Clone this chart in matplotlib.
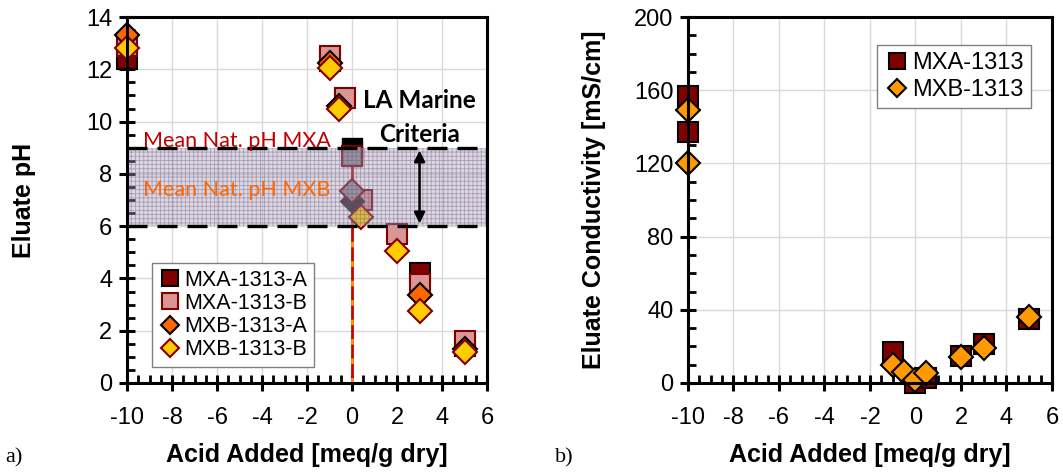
import matplotlib
matplotlib.use('Agg')
import matplotlib.pyplot as plt
from matplotlib.ticker import MultipleLocator

plt.rcParams['font.family'] = ['Liberation Sans', 'DejaVu Sans']
plt.rcParams['hatch.linewidth'] = 0.6
plt.rcParams['axes.unicode_minus'] = False

# panel a) eluate pH
mxa_a_x = [-10, -1, 3, 5]
mxa_a_y = [12.4, 12.3, 4.2, 1.4]
mxa_b_x = [-10, -1, -0.3, 0.45, 2, 3, 5]
mxa_b_y = [12.9, 12.5, 10.9, 7.0, 5.7, 3.8, 1.6]
mxb_a_x = [-10, -1, -0.6, 3, 5]
mxb_a_y = [13.3, 12.25, 10.6, 3.35, 1.3]
mxb_b_x = [-10, -1, -0.6, 0.4, 2, 3, 5]
mxb_b_y = [12.8, 12.05, 10.5, 6.35, 5.05, 2.75, 1.2]

# mean natural pH markers at zero acid
nat_mxa_y = [9.0, 8.7]
nat_mxb_y = [6.95, 7.35]
crit_low, crit_high = 6, 9

# panel b) eluate conductivity
cond_a_x = [-10, -10, -1, 0, 0.45, 2, 3, 5]
cond_a_y = [157, 137, 17, 0, 3, 15, 21.5, 35]
cond_b_x = [-10, -10, -1, -0.5, 0, 0.45, 2, 3, 5]
cond_b_y = [149, 120, 10, 6, 1.6, 5.4, 14, 19, 36]

DARK = '#800000'
PINK = '#d99694'
ORANGE = '#ff6600'
YELLOW = '#ffcc00'
AMBER = '#ff9900'

fig = plt.figure(figsize=(10.63, 4.74), dpi=100)
ax1 = fig.add_axes([0.1195, 0.192, 0.3387, 0.772])
ax2 = fig.add_axes([0.6472, 0.192, 0.3424, 0.772])


def style_axes(ax, ymax, ymajor, yminor, ylabel, ypad):
    ax.set_xlim(-10, 6)
    ax.set_ylim(0, ymax)
    ax.xaxis.set_major_locator(MultipleLocator(2))
    ax.xaxis.set_minor_locator(MultipleLocator(0.5))
    ax.yaxis.set_major_locator(MultipleLocator(ymajor))
    ax.yaxis.set_minor_locator(MultipleLocator(yminor))
    ax.grid(True, which='major', color='#d9d9d9', lw=1, zorder=0)
    ax.set_axisbelow(True)
    for s in ax.spines.values():
        s.set_linewidth(2.2)
        s.set_zorder(10)
    ax.tick_params(which='major', direction='inout', length=11, width=2.2,
                   labelsize=17, pad=5)
    ax.tick_params(which='minor', direction='in', length=5.5, width=2)
    ax.tick_params(axis='x', which='major', pad=12)
    ax.set_xlabel('Acid Added [meq/g dry]', fontsize=18, fontweight='bold',
                  labelpad=10)
    ax.set_ylabel(ylabel, fontsize=18, fontweight='bold', labelpad=ypad)


style_axes(ax1, 14, 2, 0.5, 'Eluate pH', 36)
style_axes(ax2, 200, 40, 10, 'Eluate Conductivity [mS/cm]', 20)

# ---- panel a
ax1.plot([0, 0], [0, 8.7], color='#cc0000', lw=2, zorder=2)
ax1.plot([0, 0], [0, 7.35], color='#ff9900', lw=2, ls=(0, (2, 5)), zorder=2)

ax1.plot(mxa_a_x, mxa_a_y, 's', ms=15, mfc=DARK, mec='black', mew=1.5,
         label='MXA-1313-A', zorder=3, clip_on=False)
ax1.plot(mxa_b_x, mxa_b_y, 's', ms=15, mfc=PINK, mec=DARK, mew=1.5,
         label='MXA-1313-B', zorder=3, clip_on=False)
ax1.plot([0, 0], nat_mxa_y, 's', ms=15, mfc='black', mec='black', zorder=3)
ax1.plot([0], nat_mxa_y[1:], 's', ms=15, mfc='#8c8c8c', mec=DARK, mew=1.5, zorder=3)
ax1.plot([0], nat_mxb_y[:1], 'D', ms=12, mfc='#202020', mec='#202020', zorder=3)
ax1.plot([0], nat_mxb_y[1:], 'D', ms=12, mfc='#8c8c8c', mec=DARK, mew=1.5, zorder=3)
ax1.plot(mxb_a_x, mxb_a_y, 'D', ms=12, mfc=ORANGE, mec='black', mew=1.5,
         label='MXB-1313-A', zorder=4, clip_on=False)
ax1.plot(mxb_b_x, mxb_b_y, 'D', ms=12, mfc=YELLOW, mec=DARK, mew=1.5,
         label='MXB-1313-B', zorder=4, clip_on=False)

ax1.fill_between([-10, 6], crit_low, crit_high, facecolor='#a99cb8', alpha=0.4,
                 edgecolor='#5a4a70', hatch='++++', lw=0, zorder=5)
for yv in (crit_low, crit_high):
    ax1.axhline(yv, color='black', lw=2.4, ls=(0, (6, 3)), zorder=6)
ax1.annotate('', xy=(3.0, crit_low), xytext=(3.0, crit_high),
             arrowprops=dict(arrowstyle='<|-|>', color='black', lw=1.8,
                             mutation_scale=16), zorder=7)

ax1.text(3.0, 10.8, 'LA Marine', fontsize=17.5, fontweight='bold', family='Lato',
         ha='center', va='center', zorder=7)
ax1.text(3.0, 9.5, 'Criteria', fontsize=17.5, fontweight='bold', family='Lato',
         ha='center', va='center', zorder=7)
ax1.text(-9.3, 9.26, 'Mean Nat. pH MXA', fontsize=15.5, color='#c00000',
         family='Lato', ha='left', va='center', zorder=7)
ax1.text(-9.3, 7.38, 'Mean Nat. pH MXB', fontsize=15.5, color='#ff6600',
         family='Lato', ha='left', va='center', zorder=7)

leg1 = ax1.legend(loc='lower left', bbox_to_anchor=(0.04, 0.015), fontsize=15.5,
                  handletextpad=0.1, handlelength=1.1, labelspacing=0.1,
                  borderpad=0.3, fancybox=False, edgecolor='#808080',
                  framealpha=1, markerscale=0.75)
leg1.set_zorder(8)

# ---- panel b
ax2.plot(cond_a_x, cond_a_y, 's', ms=15, mfc=DARK, mec='black', mew=1.5,
         label='MXA-1313', zorder=3, clip_on=False)
ax2.plot(cond_b_x, cond_b_y, 'D', ms=12, mfc=AMBER, mec='black', mew=1.5,
         label='MXB-1313', zorder=4, clip_on=False)
leg2 = ax2.legend(loc='upper right', bbox_to_anchor=(0.975, 0.955), fontsize=17,
                  handletextpad=0.1, handlelength=1.1, labelspacing=0.2,
                  borderpad=0.3, fancybox=False, edgecolor='#808080',
                  framealpha=1, markerscale=0.75)

fig.text(0.005, 0.025, 'a)', fontsize=16, family='Liberation Serif')
fig.text(0.522, 0.025, 'b)', fontsize=16, family='Liberation Serif')

fig.savefig('out.png', dpi=100)
